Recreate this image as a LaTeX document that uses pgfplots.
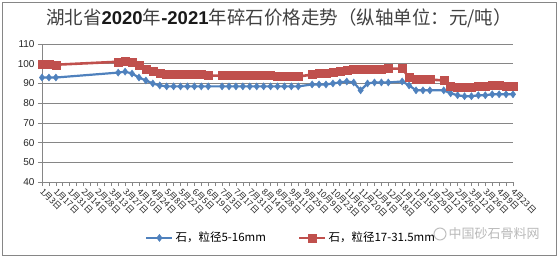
\documentclass[border=0pt]{standalone}
\usepackage{fontspec}
\setmainfont{Liberation Sans}
\newfontfamily\cjk{Noto Sans CJK SC}
\usepackage{pgfplots}
\usepackage{pgfplotstable}
\pgfplotsset{compat=1.18}
\definecolor{sblue}{HTML}{4F81BD}
\definecolor{sred}{HTML}{C0504D}
\definecolor{gridg}{HTML}{868686}

\pgfplotstableread{
w v
0 93
1 93
2 93
11 95.5
12 96
13 95
14 93
15 91.5
16 90
17 89
18 88.5
19 88.5
20 88.5
21 88.5
22 88.5
23 88.5
24 88.5
26 88.5
27 88.5
28 88.5
29 88.5
30 88.5
31 88.5
32 88.5
33 88.5
34 88.5
35 88.5
36 88.5
37 88.5
39 89.5
40 89.5
41 89.5
42 90
43 90.5
44 91
45 90.5
46 86.5
47 90
48 90.5
49 90.5
50 90.5
52 91
53 89
54 86.5
55 86.5
56 86.5
58 86.5
59 85
60 84
61 83.5
62 83.5
63 84
64 84
65 84.5
66 84.5
67 84.5
68 84.5
}\bluedata

\pgfplotstableread{
w v
0 100
1 100
2 99.5
11 101
12 101.5
13 101
14 99
15 97
16 96
17 95
18 94.5
19 94.5
20 94.5
21 94.5
22 94.5
23 94.5
24 94
26 94
27 94
28 94
29 94
30 94
31 94
32 94
33 94
34 93.5
35 93.5
36 93.5
37 93.5
39 94.5
40 95
41 95
42 95.5
43 96
44 96.5
45 97
46 97
47 97
48 97
49 97
50 97.5
52 97.5
53 93
54 92
55 92
56 92
58 91.5
59 88.5
60 88
61 88
62 88
63 88.5
64 88.5
65 89
66 89
67 88.5
68 88.5
}\reddata

\begin{document}
\begin{tikzpicture}
\path[use as bounding box] (-42pt,-76pt) rectangle (518pt,182pt);
\draw[gridg, line width=0.9pt] (-39.5pt,-73.5pt) rectangle (514.5pt,179.5pt);
\node[font=\cjk\fontsize{18.5}{21}\selectfont, text=black!75] at (237pt,164pt)
  {湖北省{\fontspec{Liberation Sans}\bfseries\color{black!90}2020}年{\fontspec{Liberation Sans}\bfseries\color{black!90}-2021}年碎石价格走势（纵轴单位：元/吨）};
\node[font=\cjk\fontsize{13}{14}\selectfont, text=gray!55] at (452pt,-52pt) {中国砂石骨料网};
\draw[gray!50, line width=1pt] (398pt,-52pt) circle (6pt);
\begin{axis}[
  at={(0pt,0pt)}, anchor=south west,
  scale only axis, width=471pt, height=138pt,
  xmin=0, xmax=68, ymin=40, ymax=110,
  ytick={40,50,...,110},
  xtick={0,2,...,68},
  minor xtick={1,3,...,67},
  xticklabels={1月3日,1月17日,1月31日,2月14日,2月28日,3月13日,3月27日,4月10日,4月24日,5月8日,5月22日,6月5日,6月19日,7月3日,7月17日,7月31日,8月14日,8月28日,9月11日,9月25日,10月9日,10月23日,11月6日,11月20日,12月4日,12月18日,1月1日,1月15日,1月29日,2月12日,2月26日,3月12日,3月26日,4月9日,4月23日},
  xticklabel style={rotate=-45, anchor=west, xshift=-1pt, yshift=-3pt, font=\cjk\fontsize{8.5}{9}\selectfont, text=black!85},
  yticklabel style={font=\fontsize{10}{11}\selectfont, text=black!85},
  /pgf/number format/assume math mode=true,
  axis x line*=bottom, axis y line*=left,
  ymajorgrids, major grid style={gridg, line width=0.7pt},
  axis line style={gridg, line width=0.9pt},
  tick style={gridg, line width=0.7pt},
  tick align=outside, major tick length=4pt, minor tick length=4pt,
  clip=false,
  legend columns=2,
  legend style={at={(0.529,-0.405)}, anchor=center, draw=none, fill=none,
    font=\cjk\fontsize{11.5}{12}\selectfont, text=black,
    /tikz/every even column/.append style={column sep=30pt}},
  legend image code/.code={\draw[mark repeat=2,mark phase=2,#1] plot coordinates {(0pt,0pt) (13pt,0pt) (26pt,0pt)};},
]
\addplot[sblue, line width=2.2pt, mark=diamond*, mark size=3.6pt, mark options={solid, fill=sblue, line width=0.4pt}] table[x=w,y=v] {\bluedata};
\addlegendentry{石，粒径5-16mm}
\addplot[sred, line width=2.6pt, mark=square*, mark size=4pt, mark options={solid, fill=sred, line width=0.4pt}] table[x=w,y=v] {\reddata};
\addlegendentry{石，粒径17-31.5mm}
\end{axis}
\end{tikzpicture}
\end{document}
